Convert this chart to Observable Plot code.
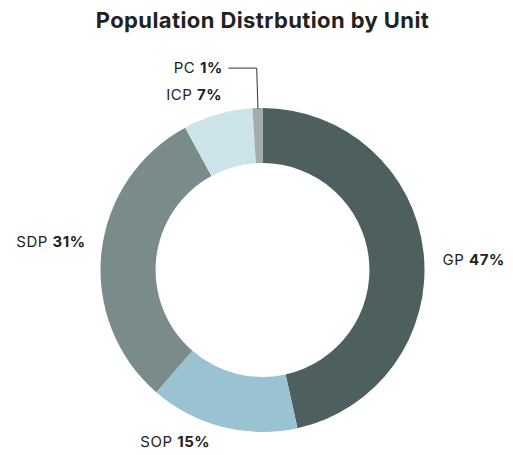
<!DOCTYPE html>
<html><head><meta charset="utf-8">
<script src="https://cdn.jsdelivr.net/npm/d3@7"></script>
<script src="https://cdn.jsdelivr.net/npm/@observablehq/plot@0.6"></script>
<style>
body{margin:0;background:#fff;}
#title{height:40px;font:700 22px Inter,sans-serif;text-align:center;line-height:40px;color:#222;letter-spacing:0.4px;padding-left:12px;}
#chart svg{display:block;}
</style></head><body>
<div id="title">Population Distrbution by Unit</div>
<div id="chart"></div>
<script>
const units = ["GP", "SOP", "SDP", "ICP", "PC"];
const shares = [47, 15, 31, 7, 1];
const colors = ["#4e5f60", "#99c3d0", "#7a8b8c", "#cde3ea", "#a3abac"];

const rows = units.map((u, i) => ({unit: u, share: shares[i], color: colors[i]}));
const slices = d3.pie().sort(null).value(d => d.share)(rows);

const innerRatio = 0.66, labelR = 1.11, angleShift = 0.05;
const small = s => (s.endAngle - s.startAngle) < 0.2;

const labels = slices.filter(s => !small(s)).map(s => {
  const a = (s.startAngle + s.endAngle) / 2 + angleShift;
  return {...s.data, lx: labelR * Math.sin(a), ly: labelR * Math.cos(a)};
});
const leaders = [];
const smallLabels = [];
slices.filter(small).forEach(s => {
  const a = (s.startAngle + s.endAngle) / 2;
  const ex = 1.25 * Math.sin(a), ey = 1.25 * Math.cos(a);
  const hx = ex - 0.173;
  leaders.push({unit: s.data.unit, x: Math.sin(a), y: Math.cos(a)}, {unit: s.data.unit, x: ex, y: ey}, {unit: s.data.unit, x: hx, y: ey});
  smallLabels.push({...s.data, lx: hx - 0.037, ly: ey});
});

const donut = (index, scales) => {
  const cx = scales.x(0), cy = scales.y(0);
  const R = scales.x(1) - cx;
  const arc = d3.arc().innerRadius(R * innerRatio).outerRadius(R);
  const g = d3.create("svg:g").attr("transform", `translate(${cx},${cy})`);
  g.selectAll("path").data(slices).join("path").attr("d", arc).attr("fill", d => d.data.color);
  return g.node();
};

const txt = d => `${d.unit} ${d.share}%`;
const common = {x: "lx", y: "ly", text: txt, fontSize: 15, fill: "#222"};

const chart = Plot.plot({
  width: 513, height: 415, margin: 0,
  style: {fontFamily: "Inter, sans-serif", background: "#fff", letterSpacing: "0.5px"},
  x: {domain: [-262.5 / 162, 250.5 / 162], axis: null},
  y: {domain: [-185 / 162, 230 / 162], axis: null},
  marks: [
    donut,
    Plot.line(leaders, {x: "x", y: "y", z: "unit", stroke: "#333", strokeWidth: 1}),
    Plot.text(labels.filter(d => d.lx >= 0), {...common, textAnchor: "start"}),
    Plot.text(labels.filter(d => d.lx < 0), {...common, textAnchor: "end"}),
    Plot.text(smallLabels, {...common, textAnchor: "end"})
  ]
});
document.getElementById("chart").append(chart);

d3.select(chart).selectAll('g[aria-label="text"] text').each(function () {
  const s = this.textContent;
  const k = s.lastIndexOf(" ");
  const el = d3.select(this);
  el.text(s.slice(0, k + 1));
  el.append("tspan").attr("font-weight", 700).text(s.slice(k + 1));
});
</script>
</body></html>
